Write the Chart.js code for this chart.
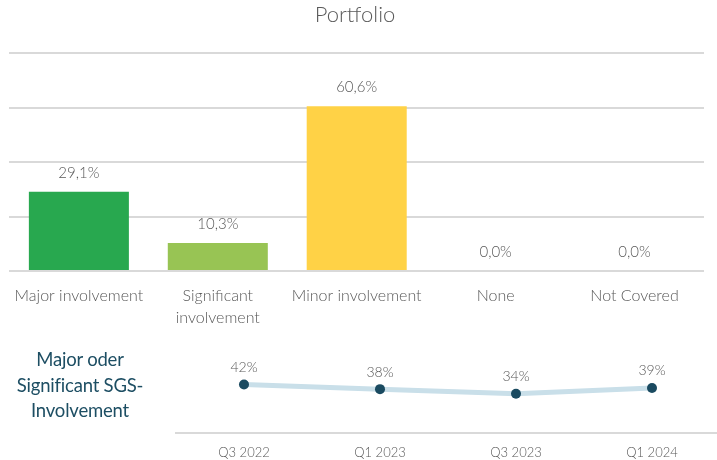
<!DOCTYPE html>
<html>
<head>
<meta charset="utf-8">
<script src="https://cdn.jsdelivr.net/npm/chart.js@4"></script>
<style>
  html, body { margin:0; padding:0; background:#fff; width:717px; height:460px; overflow:hidden; position:relative; }
  #top { position:absolute; left:0; top:0; width:717px; height:345px; }
  #bottom { position:absolute; left:171px; top:334px; width:554px; height:139px; }
  #side { position:absolute; left:0; top:347px; width:160px; text-align:center;
          font-family: Lato, "Open Sans", sans-serif; font-size:18.5px; letter-spacing:-0.2px; line-height:25.5px; color:#1d4e63; }
</style>
</head>
<body>
<canvas id="top" width="717" height="345"></canvas>
<canvas id="bottom" width="554" height="139"></canvas>
<div id="side">Major oder<br>Significant SGS-<br>Involvement</div>
<script>
const title = 'Portfolio';
const categories = ['Major involvement', ['Significant', 'involvement'], 'Minor involvement', 'None', 'Not Covered'];
const shares = [29.1, 10.3, 60.6, 0.0, 0.0];
const periods = ['Q3 2022', 'Q1 2023', 'Q3 2023', 'Q1 2024'];
const majorOrSignificant = [42, 38, 34, 39];

const barColors = ['#28a84f', '#98c454', '#ffd246', '#ffd246', '#ffd246'];
const FONT = 'Lato, "Open Sans", sans-serif';
const GREY = '#595959';

const valueLabels = (fmt, offset, size) => ({
  id: 'valueLabels',
  afterDatasetsDraw(chart) {
    const ctx = chart.ctx;
    const ds = chart.data.datasets[0];
    const meta = chart.getDatasetMeta(0);
    ctx.save();
    ctx.font = '300 ' + size + 'px ' + FONT;
    ctx.fillStyle = GREY;
    ctx.textAlign = 'center';
    ctx.textBaseline = 'middle';
    meta.data.forEach((el, i) => {
      ctx.fillText(fmt(ds.data[i]), el.x, el.y - offset);
    });
    ctx.restore();
  }
});

new Chart(document.getElementById('top'), {
  type: 'bar',
  data: {
    labels: categories,
    datasets: [{ data: shares, backgroundColor: barColors, barPercentage: 0.72, categoryPercentage: 1.0 }]
  },
  options: {
    responsive: false, animation: false,
    layout: { padding: { left: 6, right: 13, top: 0, bottom: 2 } },
    plugins: {
      legend: { display: false }, tooltip: { enabled: false },
      title: { display: true, text: title, color: GREY, font: { family: FONT, size: 22, weight: '300' }, padding: { top: 2, bottom: 25 } }
    },
    scales: {
      x: {
        grid: { display: false, drawTicks: false }, border: { display: false },
        ticks: { color: GREY, font: { family: FONT, size: 16, weight: '300', lineHeight: 1.375 }, padding: 14, maxRotation: 0, autoSkip: false }
      },
      y: {
        min: 0, max: 80,
        ticks: { display: false, stepSize: 20 },
        border: { display: false },
        grid: { color: '#d9d9d9', lineWidth: 2, drawTicks: false }
      }
    }
  },
  plugins: [valueLabels(v => v.toFixed(1).replace('.', ',') + '%', 19, 15)]
});

new Chart(document.getElementById('bottom'), {
  type: 'line',
  data: {
    labels: periods,
    datasets: [{
      data: majorOrSignificant,
      borderColor: '#c9dfe9', borderWidth: 5,
      pointBackgroundColor: '#1a4a60', pointBorderColor: '#1a4a60', pointRadius: 5, pointBorderWidth: 0,
      tension: 0
    }]
  },
  options: {
    responsive: false, animation: false,
    layout: { padding: { left: 0, right: 0, top: 29.5, bottom: 0 } },
    plugins: { legend: { display: false }, tooltip: { enabled: false } },
    scales: {
      x: {
        offset: true,
        grid: { display: true, drawOnChartArea: false, drawTicks: false },
        border: { display: true, color: '#d9d9d9', width: 2 },
        ticks: { color: GREY, font: { family: FONT, size: 13, weight: '300' }, padding: 12 }
      },
      y: { display: false, min: 0, max: 60 }
    }
  },
  plugins: [valueLabels(v => v + '%', 17, 14)]
});
</script>
</body>
</html>
